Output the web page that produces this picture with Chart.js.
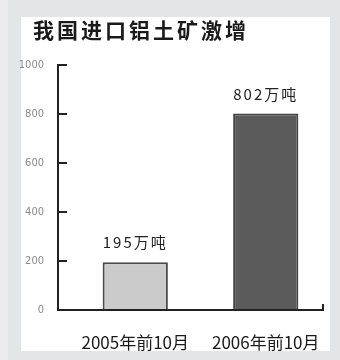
<!DOCTYPE html>
<html><head><meta charset="utf-8">
<script src="https://cdn.jsdelivr.net/npm/chart.js@4/dist/chart.umd.min.js"></script>
<style>html,body{margin:0;padding:0;background:#e4e5e7;}#wrap{position:relative;width:340px;height:360px;}</style>
</head><body><div id="wrap"><canvas id="c" width="340" height="360"></canvas></div>
<script>
const titleText = "我国进口铝土矿激增";
const categories = ["2005年前10月", "2006年前10月"];
const values = [195, 802];
const valueLabels = ["195万吨", "802万吨"];
const yTicks = [0, 200, 400, 600, 800, 1000];

const panelPlugin = {
  id: 'panel',
  beforeDraw(chart) {
    const ctx = chart.ctx;
    ctx.save();
    ctx.fillStyle = '#e4e5e7';
    ctx.fillRect(0, 0, chart.width, chart.height);
    ctx.fillStyle = '#ebebed';
    ctx.fillRect(0, 0, 8, chart.height);
    ctx.fillStyle = '#ffffff';
    ctx.fillRect(21, 17, 309, 334);
    // title
    ctx.fillStyle = '#1a1a1a';
    ctx.font = 'bold 21px "Noto Sans CJK SC"';
    ctx.letterSpacing = '3px';
    ctx.textBaseline = 'middle';
    ctx.textAlign = 'left';
    ctx.fillText(titleText, 33, 30);
    ctx.restore();
  },
  afterDatasetsDraw(chart) {
    const ctx = chart.ctx;
    const ys = chart.scales.y;
    const area = chart.chartArea;
    const axisX = area.left - 12;
    const axisRight = area.right - 8;
    ctx.save();
    ctx.strokeStyle = '#222';
    ctx.lineWidth = 2;
    ctx.beginPath();
    ctx.moveTo(axisX, ys.getPixelForValue(1000) - 1);
    ctx.lineTo(axisX, area.bottom);
    ctx.lineTo(axisRight, area.bottom);
    ctx.lineTo(axisRight, area.bottom - 6);
    ctx.stroke();
    ys.ticks.forEach(t => {
      if (t.value === 0) return;
      const y = Math.round(ys.getPixelForValue(t.value));
      ctx.beginPath();
      ctx.moveTo(axisX, y);
      ctx.lineTo(axisX + 9, y);
      ctx.stroke();
    });
    // value labels
    const meta = chart.getDatasetMeta(0);
    ctx.fillStyle = '#222';
    ctx.font = '15px "Noto Sans CJK SC"';
    ctx.letterSpacing = '2px';
    ctx.textAlign = 'center';
    ctx.textBaseline = 'bottom';
    meta.data.forEach((bar, i) => {
      ctx.fillText(valueLabels[i], bar.x, bar.y - 12);
    });
    ctx.restore();
  }
};

new Chart(document.getElementById('c'), {
  type: 'bar',
  data: {
    labels: categories,
    datasets: [{
      data: values,
      backgroundColor: ['#cbcbcb', '#5b5b5b'],
      borderColor: ['#4a4a4a', '#444444'],
      borderWidth: 2,
      borderSkipped: 'bottom',
      barPercentage: 0.5,
      categoryPercentage: 1
    }]
  },
  options: {
    responsive: false,
    animation: false,
    events: [],
    layout: { padding: { top: 65, right: 9, left: 0, bottom: 0 } },
    plugins: { legend: { display: false }, tooltip: { enabled: false }, title: { display: false } },
    scales: {
      x: {
        offset: true,
        grid: { display: false },
        border: { display: false },
        ticks: { color: '#1a1a1a', padding: 14, font: { family: '"Noto Sans CJK SC"', size: 17 } },
        afterFit(s) { s.height = 50; }
      },
      y: {
        min: 0, max: 1000,
        afterBuildTicks(s) { s.ticks = yTicks.map(v => ({ value: v })); },
        grid: { display: false },
        border: { display: false },
        ticks: { color: '#8a8a8a', padding: 18, callback: v => String(v), font: { family: '"DejaVu Sans Condensed", "DejaVu Sans"', size: 11 } },
        afterFit(s) { s.width = 70; }
      }
    }
  },
  plugins: [panelPlugin]
});
</script></body></html>
